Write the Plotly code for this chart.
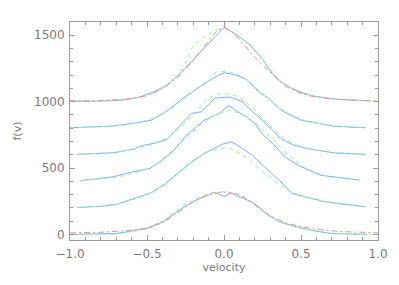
import plotly.graph_objects as go

# ---- data ----
# offset 1000 profile
v_p5_blue = [-1.0, -0.80, -0.66, -0.55, -0.46, -0.37, -0.29, -0.21, -0.10, 0.0, 0.10, 0.17, 0.25, 0.31, 0.37, 0.44, 0.50, 0.57, 0.71, 0.93]
f_p5_blue = [1004, 1004, 1012, 1035, 1072, 1125, 1205, 1305, 1435, 1560, 1490, 1425, 1320, 1215, 1150, 1100, 1072, 1045, 1020, 1007]
v_p5_green = [-1.0, -0.8, -0.65, -0.55, -0.45, -0.37, -0.3, -0.25, -0.2, -0.14, -0.07, 0.0, 0.05, 0.12, 0.2, 0.28, 0.36, 0.45, 0.55, 0.7, 0.85, 1.0]
f_p5_green = [1000, 1003, 1012, 1033, 1070, 1120, 1195, 1290, 1425, 1480, 1530, 1560, 1530, 1470, 1390, 1270, 1160, 1090, 1045, 1020, 1008, 1003]
v_p5_red = [-1.0, -0.8, -0.6, -0.5, -0.4, -0.3, -0.2, -0.1, -0.05, 0.0, 0.05, 0.1, 0.2, 0.3, 0.4, 0.5, 0.6, 0.7, 0.8, 1.0]
f_p5_red = [1005, 1008, 1022, 1045, 1095, 1185, 1310, 1460, 1530, 1560, 1530, 1470, 1335, 1220, 1115, 1062, 1033, 1020, 1012, 1005]

# offset 800 profile
v_p4_blue = [-1.0, -0.72, -0.59, -0.47, -0.37, -0.29, -0.22, -0.156, -0.09, -0.026, 0.006, 0.08, 0.15, 0.23, 0.29, 0.36, 0.42, 0.5, 0.64, 0.71, 0.92]
f_p4_blue = [803, 816, 836, 861, 930, 1005, 1063, 1112, 1163, 1205, 1218, 1200, 1165, 1070, 1025, 945, 905, 861, 830, 816, 803]
v_p4_green = [-1.0, -0.7, -0.55, -0.45, -0.35, -0.27, -0.2, -0.12, -0.05, 0.02, 0.08, 0.15, 0.22, 0.3, 0.38, 0.46, 0.55, 0.7, 0.92]
f_p4_green = [803, 817, 843, 880, 940, 1010, 1080, 1150, 1225, 1228, 1210, 1165, 1090, 1010, 940, 885, 850, 818, 803]

# offset 600 profile
v_p3_blue = [-0.956, -0.72, -0.59, -0.545, -0.44, -0.37, -0.29, -0.21, -0.145, -0.058, 0.04, 0.12, 0.18, 0.25, 0.31, 0.37, 0.45, 0.55, 0.71, 0.92]
f_p3_blue = [603, 615, 641, 665, 690, 715, 815, 912, 924, 1028, 1035, 1000, 930, 860, 790, 720, 673, 645, 615, 603]
v_p3_green = [-0.956, -0.7, -0.55, -0.45, -0.35, -0.28, -0.2, -0.12, -0.05, 0.02, 0.1, 0.18, 0.26, 0.35, 0.45, 0.55, 0.7, 0.92]
f_p3_green = [603, 617, 650, 685, 740, 810, 900, 1010, 1058, 1060, 1035, 960, 860, 760, 680, 645, 617, 603]

# offset 400 profile
v_p2_blue = [-0.935, -0.72, -0.61, -0.52, -0.48, -0.40, -0.33, -0.25, -0.13, -0.03, 0.03, 0.075, 0.14, 0.2, 0.25, 0.32, 0.4, 0.49, 0.57, 0.63, 0.88]
f_p2_blue = [404, 434, 467, 485, 497, 560, 628, 740, 860, 912, 970, 937, 890, 836, 755, 680, 580, 515, 472, 445, 409]
v_p2_green = [-0.935, -0.7, -0.55, -0.45, -0.35, -0.25, -0.15, -0.05, 0.03, 0.1, 0.2, 0.3, 0.4, 0.5, 0.6, 0.7, 0.88]
f_p2_green = [404, 432, 470, 520, 615, 720, 830, 905, 935, 915, 845, 735, 615, 520, 462, 432, 409]

# offset 200 profile
v_p1_blue = [-0.955, -0.80, -0.70, -0.60, -0.47, -0.39, -0.29, -0.22, -0.13, -0.01, 0.05, 0.12, 0.18, 0.25, 0.31, 0.38, 0.44, 0.53, 0.64, 0.75, 0.92]
f_p1_blue = [203, 212, 225, 262, 315, 372, 470, 535, 610, 680, 698, 648, 598, 522, 460, 384, 309, 283, 250, 232, 208]
v_p1_green = [-0.955, -0.8, -0.7, -0.6, -0.5, -0.4, -0.3, -0.2, -0.1, 0.0, 0.05, 0.14, 0.225, 0.31, 0.38, 0.485, 0.57, 0.7, 0.92]
f_p1_green = [203, 213, 228, 258, 300, 372, 465, 560, 625, 650, 645, 585, 497, 422, 359, 296, 271, 240, 208]

# offset 0 profile
v_p0_blue = [-1.0, -0.70, -0.50, -0.39, -0.33, -0.24, -0.16, -0.06, 0.0, 0.05, 0.125, 0.19, 0.29, 0.36, 0.45, 0.56, 0.69, 0.86, 0.93]
f_p0_blue = [0, 7, 45, 100, 150, 221, 271, 316, 285, 312, 271, 240, 145, 95, 63, 32, 7, 0, 0]
v_p0_green = [-1.0, -0.7, -0.5, -0.42, -0.35, -0.27, -0.17, -0.08, 0.0, 0.07, 0.15, 0.22, 0.3, 0.38, 0.47, 0.58, 0.7, 0.85, 1.0]
f_p0_green = [0, 3, 40, 75, 140, 215, 280, 315, 322, 312, 270, 200, 130, 85, 55, 28, 10, 3, 2]
v_p0_red = [-1.0, -0.8, -0.6, -0.5, -0.38, -0.3, -0.2, -0.1, 0.0, 0.1, 0.2, 0.3, 0.4, 0.5, 0.6, 0.75, 0.9, 1.0]
f_p0_red = [12, 16, 32, 48, 100, 165, 245, 300, 320, 300, 225, 140, 88, 58, 38, 22, 14, 12]

x_tick_vals = [-1.0, -0.5, 0.0, 0.5, 1.0]
x_tick_text = ["\u22121.0", "\u22120.5", "0.0", "0.5", "1.0"]
y_tick_vals = [0, 500, 1000, 1500]
y_tick_text = ["0", "500", "1000", "1500"]

BLUE = "#76b0ff"
GREEN = "#98f098"
RED = "#ff8a8a"
AXC = "#9a9a9a"
TXT = "#7a7a7a"

fig = go.Figure()

blue_sets = [(v_p0_blue, f_p0_blue), (v_p1_blue, f_p1_blue), (v_p2_blue, f_p2_blue),
             (v_p3_blue, f_p3_blue), (v_p4_blue, f_p4_blue), (v_p5_blue, f_p5_blue)]
green_sets = [(v_p0_green, f_p0_green), (v_p1_green, f_p1_green), (v_p2_green, f_p2_green),
              (v_p3_green, f_p3_green), (v_p4_green, f_p4_green), (v_p5_green, f_p5_green)]
red_sets = [(v_p0_red, f_p0_red), (v_p5_red, f_p5_red)]

for vx, fy in blue_sets:
    fig.add_trace(go.Scatter(x=vx, y=fy, mode="lines",
                             line=dict(color=BLUE, width=1)))
for vx, fy in green_sets:
    fig.add_trace(go.Scatter(x=vx, y=fy, mode="lines",
                             line=dict(color=GREEN, width=1, dash="4px,4px")))
for vx, fy in red_sets:
    fig.add_trace(go.Scatter(x=vx, y=fy, mode="lines",
                             line=dict(color=RED, width=1, dash="6px,3px,2px,3px")))

# the page body has an 8px margin; size the figure so the plot area lands
# at x 70..378, y 22..240 of the window
fig.update_layout(
    width=391, height=277,
    margin=dict(l=62, r=21, t=14, b=45, autoexpand=False),
    paper_bgcolor="white", plot_bgcolor="white",
    showlegend=False,
    font=dict(family="DejaVu Sans", size=12, color=TXT),
)
fig.update_xaxes(
    range=[-1.0, 1.0], showgrid=False, zeroline=False, automargin=False,
    showline=True, linecolor=AXC, linewidth=1, mirror="ticks",
    ticks="inside", ticklen=5, tickcolor=AXC, tickwidth=1,
    tickvals=x_tick_vals, ticktext=x_tick_text, ticklabelstandoff=3,
    minor=dict(ticks="inside", ticklen=3, tickcolor=AXC, dtick=0.1, tick0=0, showgrid=False),
    title=dict(text="velocity", font=dict(size=11, color=TXT), standoff=2),
)
fig.update_yaxes(
    range=[-42, 1600], showgrid=False, zeroline=False, automargin=False,
    showline=True, linecolor=AXC, linewidth=1, mirror="ticks",
    ticks="inside", ticklen=5, tickcolor=AXC, tickwidth=1,
    tickvals=y_tick_vals, ticktext=y_tick_text, ticklabelstandoff=2,
    minor=dict(ticks="inside", ticklen=3, tickcolor=AXC, dtick=100, tick0=0, showgrid=False),
    title=dict(text="f(v)", font=dict(size=11, color=TXT), standoff=10),
)

fig.write_html("out.html")
